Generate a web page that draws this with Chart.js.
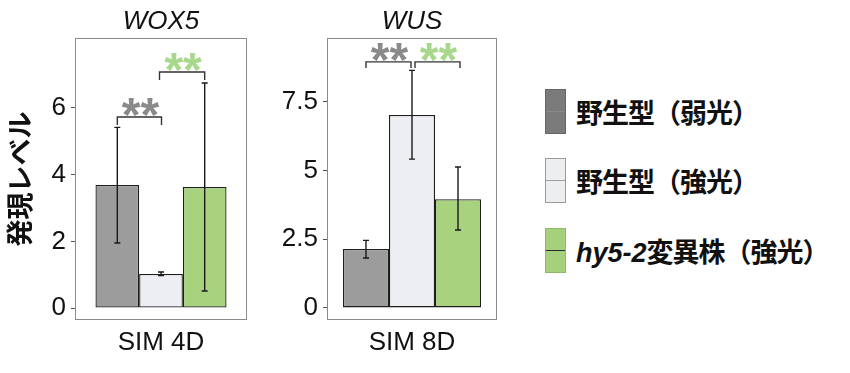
<!DOCTYPE html>
<html>
<head>
<meta charset="utf-8">
<script src="https://cdn.jsdelivr.net/npm/chart.js@4.4.1/dist/chart.umd.min.js"></script>
<style>
  body { margin: 0; background: #fff; width: 850px; height: 373px; overflow: hidden; position: relative; }
  .panel { position: absolute; top: 0; }
  #legend { position: absolute; left: 545px; top: 0; }
  .item { position: absolute; left: 0; display: flex; align-items: center; white-space: nowrap; }
  .key { width: 21px; height: 45px; box-sizing: border-box; border: 1px solid; position: relative; }
  .key span { position: absolute; left: 0; right: 0; top: 21px; height: 1px; }
  .lab { margin-left: 10px; font: bold 27px "Noto Sans CJK JP"; color: #111; letter-spacing: -1px; }
  .lab i { font-family: "Liberation Sans"; letter-spacing: 0; }
</style>
</head>
<body>
<canvas id="wox5" class="panel" width="260" height="373" style="left:0"></canvas>
<canvas id="wus" class="panel" width="260" height="373" style="left:260px"></canvas>
<div id="legend"></div>
<script>
const groups = ['野生型（弱光）', '野生型（強光）', 'hy5-2変異株（強光）'];

const wox5Mean = [3.69, 1.02, 3.63];
const wox5Low = [1.95, 0.97, 0.51];
const wox5High = [5.42, 1.08, 6.75];

const wusMean = [2.15, 7.03, 3.96];
const wusLow = [1.82, 5.42, 2.84];
const wusHigh = [2.46, 8.65, 5.13];

const wox5Ticks = [0, 2, 4, 6];
const wox5TickLabels = ['0', '2', '4', '6'];
const wusTicks = [0, 2.5, 5, 7.5];
const wusTickLabels = ['0', '2.5', '5', '7.5'];

const barColors = ['#9c9c9c', '#eceef1', '#a9d27e'];
const keyColors = ['#7b7b7b', '#eceef0', '#a6d07c'];
const keyBorders = ['#666', '#9a9a9a', '#8fb86a'];
const keyLines = ['#8a8a8a', '#a0a0a0', '#2a2a2a'];

// error bars, significance brackets, panel frame
const extras = {
    id: 'extras',
    afterDatasetsDraw(chart, args, opts) {
        const { ctx, chartArea: a, scales: { y } } = chart;
        ctx.save();
        chart.data.datasets.forEach((ds, i) => {
            const x = chart.getDatasetMeta(i).data[0].x;
            const lo = y.getPixelForValue(opts.low[i]);
            const hi = y.getPixelForValue(opts.high[i]);
            ctx.strokeStyle = '#1a1a1a';
            ctx.lineWidth = 1.4;
            ctx.beginPath();
            ctx.moveTo(x, lo); ctx.lineTo(x, hi);
            ctx.moveTo(x - 3, lo); ctx.lineTo(x + 3, lo);
            ctx.moveTo(x - 3, hi); ctx.lineTo(x + 3, hi);
            ctx.stroke();
        });
        opts.sig.forEach(s => {
            const x1 = chart.getDatasetMeta(s.from).data[0].x + s.inset[0];
            const x2 = chart.getDatasetMeta(s.to).data[0].x - s.inset[1];
            const yt = y.getPixelForValue(s.y);
            ctx.strokeStyle = '#333';
            ctx.lineWidth = 1.4;
            ctx.beginPath();
            ctx.moveTo(x1, yt + s.drop); ctx.lineTo(x1, yt); ctx.lineTo(x2, yt); ctx.lineTo(x2, yt + s.drop);
            ctx.stroke();
            ctx.fillStyle = s.color;
            ctx.font = 'bold 48px "Liberation Sans"';
            ctx.textAlign = 'center';
            ctx.textBaseline = 'alphabetic';
            ctx.fillText('**', (x1 + x2) / 2 + 1, yt - 14 + 0.58 * 48);
        });
        ctx.strokeStyle = '#8a8a8a';
        ctx.lineWidth = 1;
        ctx.strokeRect(a.left + 0.5, a.top + 0.5, a.width - 1, a.height - 1);
        ctx.restore();
    }
};

function makeChart(id, cfg) {
    return new Chart(document.getElementById(id), {
        type: 'bar',
        data: {
            labels: [cfg.category],
            datasets: groups.map((g, i) => ({
                label: g,
                data: [cfg.mean[i]],
                backgroundColor: barColors[i],
                borderColor: '#1e1e1e',
                borderWidth: 1.3,
                borderSkipped: false,
                categoryPercentage: cfg.catPct,
                barPercentage: 1
            }))
        },
        options: {
            responsive: false,
            animation: false,
            layout: { padding: { left: 0, right: cfg.padRight, top: 0, bottom: 0 } },
            plugins: {
                legend: { display: false },
                tooltip: { enabled: false },
                extras: { low: cfg.low, high: cfg.high, sig: cfg.sig }
            },
            scales: {
                x: {
                    grid: { display: false, drawTicks: false },
                    border: { display: false },
                    ticks: { color: '#111', padding: 7, font: { family: 'Liberation Sans', size: 26 } },
                    afterFit: s => { s.height = 53; }
                },
                top: {
                    type: 'category',
                    position: 'top',
                    grid: { display: false, drawTicks: false },
                    border: { display: false },
                    ticks: { display: false },
                    title: {
                        display: true,
                        text: cfg.title,
                        color: '#111',
                        padding: { top: 6, bottom: 0 },
                        font: { family: 'Liberation Sans', size: 26, style: 'italic' }
                    },
                    afterFit: s => { s.height = 38; }
                },
                y: {
                    min: cfg.min,
                    max: cfg.max,
                    grid: { drawOnChartArea: false, drawTicks: true, tickLength: 4, color: '#555' },
                    border: { display: false },
                    ticks: {
                        color: '#111',
                        padding: 5,
                        font: { family: 'Liberation Sans', size: 26 },
                        callback: (v, i) => cfg.tickLabels[i]
                    },
                    afterBuildTicks: s => { s.ticks = cfg.ticks.map(v => ({ value: v })); },
                    title: {
                        display: !!cfg.yTitle,
                        text: cfg.yTitle,
                        color: '#111',
                        padding: { top: 4, bottom: 0 },
                        font: { family: 'Noto Sans CJK JP', size: 27, weight: 'bold' }
                    },
                    afterFit: s => { s.width = cfg.axisWidth; }
                }
            }
        },
        plugins: [extras]
    });
}

makeChart('wox5', {
    title: 'WOX5', category: 'SIM 4D', yTitle: '発現レベル',
    mean: wox5Mean, low: wox5Low, high: wox5High,
    ticks: wox5Ticks, tickLabels: wox5TickLabels,
    min: -0.36, max: 8.1, catPct: 0.762, axisWidth: 75, padRight: 13,
    sig: [
        { from: 0, to: 1, y: 5.73, drop: 8, inset: [0, -0.5], color: '#8a8a8a' },
        { from: 1, to: 2, y: 7.08, drop: 8, inset: [-1.5, 0], color: '#a8d88c' }
    ]
});

makeChart('wus', {
    title: 'WUS', category: 'SIM 8D', yTitle: '',
    mean: wusMean, low: wusLow, high: wusHigh,
    ticks: wusTicks, tickLabels: wusTickLabels,
    min: -0.44, max: 9.83, catPct: 0.812, axisWidth: 67, padRight: 23,
    sig: [
        { from: 0, to: 1, y: 8.96, drop: 6, inset: [0, 1], color: '#8a8a8a' },
        { from: 1, to: 2, y: 8.96, drop: 6, inset: [3, -2], color: '#a8d88c' }
    ]
});

const legend = document.getElementById('legend');
const keyTops = [89, 158, 228];
groups.forEach((g, i) => {
    const item = document.createElement('div');
    item.className = 'item';
    item.style.top = keyTops[i] + 'px';
    item.innerHTML =
        `<div class="key" style="background:${keyColors[i]};border-color:${keyBorders[i]}">` +
        `<span style="background:${keyLines[i]}"></span></div>` +
        `<div class="lab">${g.replace(/^(hy5-2)/, '<i>$1</i>')}</div>`;
    legend.appendChild(item);
});
</script>
</body>
</html>
